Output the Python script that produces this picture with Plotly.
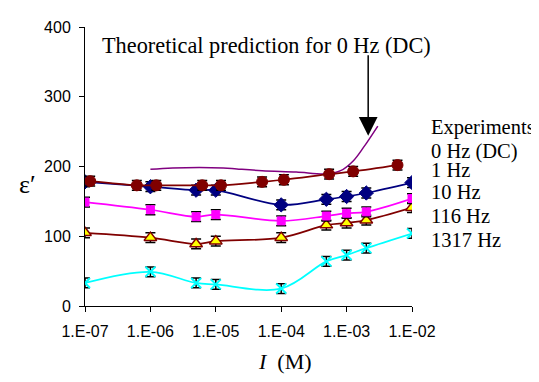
import plotly.graph_objects as go

# ---- data ----
x_dc = [1.2e-7, 6.2e-7, 1.23e-6, 6.2e-6, 1.2e-5, 5.1e-5, 1.1e-4, 5.4e-4, 1.26e-3, 6.0e-3]
y_dc = [179, 173, 173, 173, 173, 178, 181, 189, 193, 202]

x_exp = [1e-7, 1e-6, 5e-6, 1e-5, 1e-4, 4.9e-4, 1e-3, 2e-3, 1e-2]
y_1hz = [178, 171, 166, 166, 145, 153, 157, 162, 177]
y_10hz = [149, 138, 128, 131, 122, 129, 133, 135, 154]
y_116hz = [105, 98, 89, 93, 98, 116, 119, 123, 141]
y_1317hz = [33, 49, 33, 31, 25, 64, 73, 83, 104]

x_theory = [1e-6, 2.2e-6, 1.3e-5, 2.1e-5, 5.1e-5, 1.7e-4, 5e-4, 8.1e-4, 1.26e-3, 1.8e-3, 3.0e-3]
y_theory = [196, 198, 198, 196.5, 194, 192, 189.5, 194, 208, 227, 258]

err = 7
x_ticks = [1e-7, 1e-6, 1e-5, 1e-4, 1e-3, 1e-2]
x_tick_labels = ["1.E-07", "1.E-06", "1.E-05", "1.E-04", "1.E-03", "1.E-02"]
y_ticks = [0, 100, 200, 300, 400]
labels = ["Experiments", "0 Hz (DC)", "1 Hz", "10 Hz", "116 Hz", "1317 Hz"]

# plot area in page pixels (page has an 8px body margin)
PX0, PX1, PY0, PY1 = 85, 412, 19, 306
PW, PH = PX1 - PX0, PY1 - PY0

def px(x):
    return (x - PX0) / PW

def py(y):
    return (PY1 - y) / PH

fig = go.Figure()

fig.add_trace(go.Scatter(x=x_theory, y=y_theory, mode="lines",
                         line=dict(color="#800080", width=1.5, shape="spline"),
                         showlegend=False))

def add_series(x, y, lcolor, symbol, mcolor, size, mline_color, mline_w):
    fig.add_trace(go.Scatter(
        x=x, y=y, mode="lines+markers",
        line=dict(color=lcolor, width=1.75, shape="spline"),
        marker=dict(symbol=symbol, color=mcolor, size=size,
                    line=dict(color=mline_color, width=mline_w)),
        error_y=dict(type="constant", value=err, color="black", thickness=1.5, width=5),
        showlegend=False))

add_series(x_exp, y_1317hz, "#00FFFF", "x-thin-open", "#00FFFF", 10, "#00FFFF", 2)
add_series(x_exp, y_116hz, "#800000", "triangle-up", "#FFFF00", 11, "#800000", 1.5)
add_series(x_exp, y_10hz, "#FF00FF", "square", "#FF00FF", 8, "#FF00FF", 1)
add_series(x_exp, y_1hz, "#000080", "diamond", "#000080", 11, "#000080", 1)
add_series(x_dc, y_dc, "#800000", "circle", "#800000", 11, "#800000", 1)

serif = "Liberation Serif"
annots = []
label_y = [122, 147, 166.5, 189, 213.5, 238]
for t, yy in zip(labels, label_y):
    annots.append(dict(text=t, xref="paper", yref="paper",
                       x=px(429), y=py(yy), xanchor="left", yanchor="middle",
                       showarrow=False, font=dict(family=serif, size=20.5, color="black")))

annots.append(dict(text="Theoretical prediction for 0 Hz (DC)", xref="paper", yref="paper",
                   x=px(100), y=py(38), xanchor="left", yanchor="middle",
                   showarrow=False, font=dict(family=serif, size=22.3, color="black")))
annots.append(dict(x=-2.67, y=244, xref="x", yref="y", text="", showarrow=True,
                   ax=0, ay=-82, arrowhead=2, arrowsize=2.5, arrowwidth=1.5,
                   arrowcolor="black"))
annots.append(dict(text="ε′", xref="paper", yref="paper", x=px(27), y=py(181),
                   xanchor="center", yanchor="middle", showarrow=False,
                   font=dict(family=serif, size=26, color="black")))
annots.append(dict(text="<i>I</i>\u00a0\u00a0(M)", xref="paper", yref="paper",
                   x=px(285), y=py(363), xanchor="center", yanchor="middle",
                   showarrow=False, font=dict(family=serif, size=22, color="black")))

fig.update_layout(
    width=539, height=382,
    margin=dict(l=PX0 - 8, r=539 - PX1 + 8, t=PY0 - 8, b=382 - PY1 + 8),
    paper_bgcolor="white", plot_bgcolor="white",
    annotations=annots,
    xaxis=dict(type="log", range=[-7, -2], tickvals=x_ticks, ticktext=x_tick_labels,
               showgrid=False, zeroline=False, showline=True, linecolor="black",
               linewidth=1, ticks="outside", ticklen=5, tickcolor="black",
               ticklabelstandoff=6,
               tickfont=dict(family="Liberation Sans", size=16, color="black")),
    yaxis=dict(range=[0, 400], tickvals=y_ticks, showgrid=False, zeroline=False,
               showline=True, linecolor="black", linewidth=1, ticks="outside",
               ticklen=5, tickcolor="black", ticklabelstandoff=5,
               tickfont=dict(family="Liberation Sans", size=16, color="black")),
)

fig.write_html("out.html")
